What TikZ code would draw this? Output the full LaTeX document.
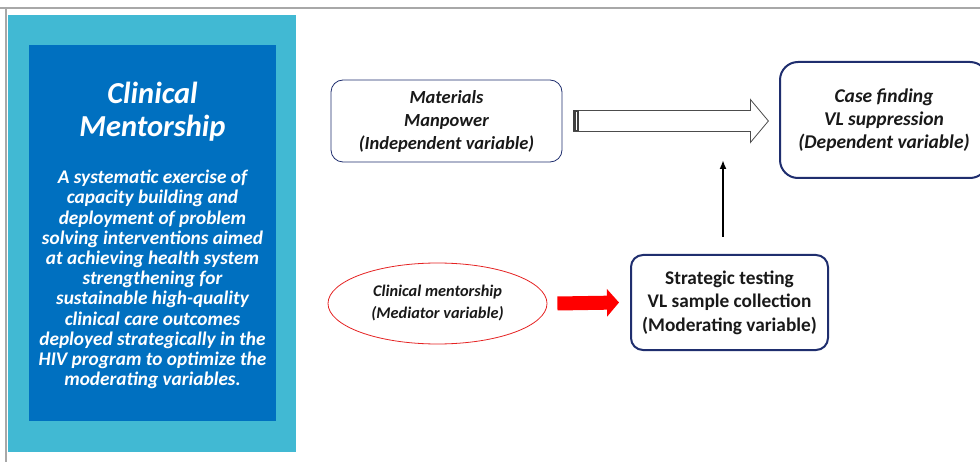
\documentclass[tikz,border=0pt]{standalone}
\usepackage{fontspec}
\setmainfont{Carlito}
\usetikzlibrary{arrows.meta,shapes.geometric}

\definecolor{panelcyan}{HTML}{41B9D3}
\definecolor{panelblue}{HTML}{0070C0}
\definecolor{boxnavy}{HTML}{1F2E6E}
\definecolor{mentorred}{HTML}{E52222}
\definecolor{framegray}{HTML}{A8A8A8}

\tikzset{
  framerule/.style={draw=framegray, line width=1.5pt},
  paneltitle/.style={align=center, text=white, inner sep=0pt,
    font=\fontsize{30.5}{33}\selectfont\bfseries\itshape},
  paneltext/.style={align=center, text=white, inner sep=0pt,
    font=\fontsize{19.3}{20.2}\selectfont\bfseries\itshape},
  varbox/.style={draw=boxnavy, fill=white, align=center, inner sep=0pt,
    text=black!90, font=\fontsize{18.5}{23}\selectfont\bfseries\itshape},
  indepbox/.style={varbox, line width=0.8pt, rounded corners=12pt,
    minimum width=231pt, minimum height=82pt},
  depbox/.style={varbox, font=\fontsize{19.5}{23}\selectfont\bfseries\itshape,
    line width=2pt, rounded corners=18pt,
    minimum width=208pt, minimum height=116pt},
  modbox/.style={varbox, font=\fontsize{19.3}{23.5}\selectfont\bfseries,
    line width=2pt, rounded corners=12pt,
    minimum width=197pt, minimum height=95pt},
  mediator/.style={draw=mentorred, ellipse, fill=white, align=center,
    inner sep=0pt, line width=0.8pt, minimum width=219pt, minimum height=81pt,
    text=black!90, font=\fontsize{16.3}{22}\selectfont\bfseries\itshape},
  hollowarrow/.style={draw=black!70, fill=white, line width=0.8pt},
  redarrow/.style={draw=red, line width=14pt,
    -{Triangle[length=12pt,width=27pt]}},
  modarrow/.style={draw=black, line width=1.8pt,
    -{Latex[length=9pt,width=7pt]}}
}

\begin{document}
\begin{tikzpicture}[x=1pt,y=-1pt]
    \useasboundingbox (0,0) rectangle (980,462);

    % slide frame
    \draw[framerule] (0,8) -- (980,8);
    \draw[framerule] (6,8) -- (6,462);

    % left panel
    \fill[panelcyan] (8,15) rectangle (296,452);
    \fill[panelblue] (29,45) rectangle (276,421);
    \node[paneltitle] at (152.5,112) (title) {Clinical\\Mentorship};
    \node[paneltext] at (152.5,279.5) (definition) {A systematic exercise of\\
      capacity building and\\
      deployment of problem\\
      solving interventions aimed\\
      at achieving health system\\
      strengthening for\\
      sustainable high-quality\\
      clinical care outcomes\\
      deployed strategically in the\\
      HIV program to optimize the\\
      moderating variables.};

    % variables
    \node[indepbox] at (446.5,121) (materials) {Materials\\Manpower\\(Independent variable)};
    \node[depbox] at (884,120) (casefind) {Case finding\\VL suppression\\(Dependent variable)};
    \node[mediator] at (437.5,303.5) (mediator) {Clinical mentorship\\(Mediator variable)};
    \node[modbox] at (729.5,302.5) (moderating) {Strategic testing\\VL sample collection\\(Moderating variable)};

    % hollow arrow independent -> dependent
    \draw[hollowarrow] (materials.east) ++(11,-10.5) -- ++(177,0) -- ++(0,-11)
      -- ++(18,21.5) -- ++(-18,21.5) -- ++(0,-11) -- ++(-177,0) -- cycle;
    \fill[black!75] (materials.east) ++(11,-10.5) rectangle ++(6,21);
    \draw[white, line width=0.6pt] (materials.east) ++(14,-9) -- ++(0,18);

    \draw[redarrow] ([xshift=10pt]mediator.east) -- ([xshift=-11pt]moderating.west);

    \coordinate (modtip) at (723,160);
    \draw[modarrow] ([xshift=-6.5pt,yshift=17pt]moderating.north) -- (modtip);
\end{tikzpicture}
\end{document}
